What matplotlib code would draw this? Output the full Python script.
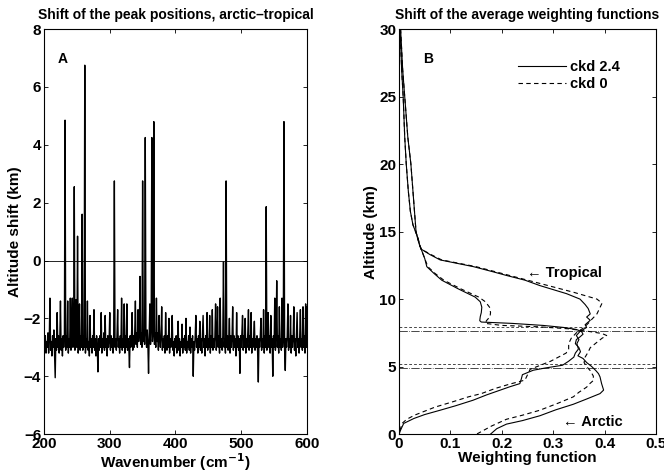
import numpy as np
import matplotlib
matplotlib.use('Agg')
import matplotlib.pyplot as plt

plt.rcParams['font.family'] = ['Liberation Sans', 'DejaVu Sans']
plt.rcParams['font.weight'] = 'bold'
plt.rcParams['axes.labelweight'] = 'bold'

# panel A: altitude shift of the peak, 1 cm-1 steps from 200 to 600
wn_start = 200
shift = [
    -2.7, -3.1, -2.6, -3.2, -2.8, -3.0, -2.5, -3.2, -2.7, -1.3, -3.1, -2.8, -3.3, -2.6, -3.0, -2.4, -3.2, -4.05, -2.7, -3.1,
    -1.8, -3.0, -2.6, -3.2, -2.8, -1.4, -3.1, -2.7, -3.3, -2.6, -3.0, -2.7, 4.85, -3.1, -2.6, -3.0, -1.4, -3.2, -2.7, -3.0,
    -1.3, -3.1, -2.6, -1.3, -3.0, -2.7, 2.55, -3.1, -2.6, -1.35, -3.0, 0.84, -3.2, -2.7, -1.5, -3.1, -2.6, -3.0, 1.6, -3.1,
    -2.6, -3.0, 6.75, -3.2, -2.7, -3.0, -1.4, -3.1, -2.8, -3.3, -1.9, -3.0, -2.7, -3.2, -2.6, -3.0, -1.7, -3.1, -2.7, -3.3,
    -2.6, -3.0, -3.85, -2.7, -3.1, -2.6, -3.0, -1.8, -3.2, -2.7, -3.0, -2.5, -3.1, -1.9, -3.0, -2.7, -3.3, -2.6, -3.0, -2.8,
    -1.8, -3.1, -2.6, -3.0, -2.7, -3.2, -2.6, 2.75, -3.0, -2.7, -3.1, -2.6, -1.7, -3.0, -2.7, -3.2, -2.6, -3.0, -1.3, -3.1,
    -2.7, -3.0, -1.5, -3.2, -2.6, -3.0, -1.5, -3.1, -2.7, -3.0, -3.7, -2.6, -3.0, -2.7, -1.8, -3.1, -2.6, -3.0, -2.5, -1.4,
    -2.9, -2.5, -3.0, -1.7, -2.8, -2.4, -0.55, -2.9, -2.5, -3.0, 2.75, -2.8, -2.4, -2.9, 4.25, -2.5, -3.0, -2.4, -2.9, -3.9,
    -2.5, -1.5, -2.9, -2.4, 4.25, -2.8, -2.5, 4.8, -2.9, -2.5, -3.0, -1.3, -2.8, -2.5, -3.1, -1.9, -2.7, -3.0, -2.6, -1.6,
    -3.1, -2.7, -3.0, -2.6, -3.2, -1.8, -2.8, -3.1, -2.6, -3.0, -2.0, -3.2, -2.7, -3.0, -2.6, -1.9, -3.1, -2.8, -3.3, -2.7,
    -3.0, -2.6, -3.2, -2.8, -2.1, -3.1, -2.7, -3.3, -2.8, -3.0, -2.2, -3.2, -2.7, -3.0, -2.6, -3.1, -2.0, -3.2, -2.8, -3.0,
    -2.6, -3.1, -2.3, -3.2, -2.7, -3.0, -2.6, -4.0, -2.8, -3.1, -2.6, -1.9, -3.0, -2.7, -3.2, -2.6, -3.0, -2.1, -3.1, -2.7,
    -3.2, -2.6, -1.9, -3.0, -2.7, -3.3, -2.6, -3.0, -1.8, -3.1, -2.7, -3.0, -1.9, -3.2, -2.6, -3.0, -1.7, -3.1, -2.7, -3.0,
    -2.6, -1.5, -3.1, -2.7, -1.6, -3.0, -2.6, -3.2, -1.3, -3.0, -2.7, -3.1, -2.6, -0.05, -3.0, -2.7, -3.2, 2.75, -3.0, -2.6,
    -3.1, -2.7, -2.0, -3.2, -2.6, -3.0, -2.7, -1.6, -3.1, -2.6, -3.0, -2.7, -3.3, -1.8, -3.0, -2.6, -3.1, -2.7, -3.9, -2.6,
    -3.0, -2.5, -1.9, -3.1, -2.6, -3.0, -2.0, -3.2, -2.7, -3.0, -2.5, -1.7, -3.1, -2.6, -3.0, -1.8, -3.2, -2.7, -3.0, -2.6,
    -2.1, -3.1, -2.7, -3.0, -2.6, -3.2, -4.2, -2.7, -3.0, -2.6, -2.0, -3.1, -2.7, -3.0, -1.7, -3.2, -2.6, -3.0, 1.86, -3.1,
    -2.7, -1.8, -3.0, -2.6, -3.2, -1.9, -3.0, -2.7, -4.0, -2.6, -3.0, -1.3, -3.1, -2.7, -0.7, -3.0, -2.6, -3.2, -1.6, -3.0,
    -2.7, -3.1, -1.3, -3.0, -2.6, 4.8, -3.1, -3.8, -2.7, -3.0, -2.6, -1.5, -3.1, -2.7, -3.0, -1.9, -3.2, -2.6, -3.0, -2.7,
    -1.6, -3.1, -2.7, -3.3, -2.6, -1.8, -3.0, -2.7, -3.2, -2.6, -1.7, -3.0, -2.7, -3.1, -1.6, -3.0, -2.6, -3.2, -1.5, -3.0,
    -1.6,
]
wn = np.arange(wn_start, wn_start + len(shift))

# panel B: average weighting functions (altitude km, weight)
trop_alt = [30, 27, 25, 22, 20, 18, 16.5, 15.5, 15, 14.5, 14, 13.7, 13.3, 12.9, 12.4, 12.0, 11.75, 11.4, 11.0, 10.4,
            10.0, 9.6, 9.3, 8.9, 8.67, 8.43, 8.1, 7.9, 7.6, 7.3, 7.0, 6.7, 6.3, 6.0, 5.7, 5.4, 5.1, 4.9, 4.73, 4.4,
            4.1, 3.74, 3.5, 3.26, 2.9, 2.51, 2.1, 1.77, 1.45, 1.16, 0.79, 0.3, 0]
trop_ckd24 = [0.002, 0.005, 0.008, 0.011, 0.014, 0.018, 0.022, 0.027, 0.032, 0.037, 0.040, 0.043, 0.060, 0.080, 0.145,
              0.185, 0.209, 0.245, 0.274, 0.326, 0.352, 0.362, 0.368, 0.372, 0.365, 0.372, 0.362, 0.365, 0.352, 0.345,
              0.350, 0.346, 0.349, 0.343, 0.340, 0.330, 0.318, 0.285, 0.261, 0.240, 0.238, 0.235, 0.215, 0.197, 0.170,
              0.144, 0.110, 0.080, 0.050, 0.029, 0.009, 0.003, 0.0]
trop0_alt = [30, 27, 25, 22, 20, 18, 16.5, 15.5, 15, 14.5, 14, 13.7, 13.3, 12.9, 12.4, 12.0, 11.5, 11.0, 10.5, 10.0,
             9.7, 9.3, 8.9, 8.5, 8.2, 7.9, 7.5, 7.1, 6.7, 6.3, 6.0, 5.7, 5.4, 5.1, 4.8, 4.4, 4.0, 3.7, 3.38, 3.0,
             2.76, 2.4, 2.0, 1.7, 1.4, 1.1, 0.8, 0.3, 0]
trop_ckd0 = [0.002, 0.005, 0.008, 0.011, 0.014, 0.018, 0.022, 0.027, 0.032, 0.037, 0.040, 0.043, 0.062, 0.083, 0.150,
             0.190, 0.240, 0.290, 0.340, 0.385, 0.395, 0.390, 0.385, 0.375, 0.368, 0.360, 0.345, 0.335, 0.330, 0.330,
             0.325, 0.310, 0.295, 0.275, 0.255, 0.250, 0.245, 0.215, 0.187, 0.160, 0.135, 0.105, 0.070, 0.050, 0.030,
             0.015, 0.006, 0.002, 0.0]

arc_alt = [30, 27, 25, 22, 20, 18, 16.5, 15.5, 15, 14.5, 14, 13.5, 13, 12.4, 11.9, 11.4, 10.76, 10.15, 9.8, 9.4,
           9.0, 8.7, 8.4, 8.3, 8.2, 8.05, 7.9, 7.75, 7.6, 7.4, 7.2, 7.0, 6.7, 6.4, 6.1, 5.8, 5.6, 5.3, 5.0, 4.7,
           4.48, 4.24, 3.75, 3.26, 3.0, 2.6, 2.21, 1.8, 1.36, 1.0, 0.74, 0.4, 0]
arc_ckd24 = [0.003, 0.007, 0.011, 0.017, 0.023, 0.027, 0.030, 0.032, 0.033, 0.036, 0.040, 0.045, 0.050, 0.054, 0.068,
             0.083, 0.115, 0.148, 0.158, 0.161, 0.160, 0.158, 0.157, 0.160, 0.220, 0.280, 0.320, 0.345, 0.355, 0.358,
             0.352, 0.345, 0.343, 0.350, 0.353, 0.348, 0.358, 0.365, 0.375, 0.383, 0.388, 0.391, 0.394, 0.398, 0.391,
             0.365, 0.339, 0.305, 0.274, 0.240, 0.209, 0.190, 0.178]
arc0_alt = [30, 27, 25, 22, 20, 18, 16.5, 15.5, 15, 14.5, 14, 13.5, 13, 12.4, 11.9, 11.4, 10.76, 10.15, 9.8, 9.4,
            9.0, 8.7, 8.4, 8.2, 8.05, 7.95, 7.8, 7.6, 7.45, 7.3, 7.1, 6.8, 6.4, 6.08, 5.7, 5.3, 5.0, 4.7, 4.3, 3.97,
            3.7, 3.48, 3.1, 2.76, 2.3, 1.77, 1.4, 1.1, 0.6, 0]
arc_ckd0 = [0.003, 0.007, 0.011, 0.017, 0.023, 0.027, 0.030, 0.032, 0.033, 0.036, 0.040, 0.045, 0.050, 0.056, 0.070,
            0.087, 0.120, 0.155, 0.168, 0.176, 0.178, 0.177, 0.170, 0.168, 0.200, 0.270, 0.330, 0.370, 0.395, 0.404,
            0.395, 0.385, 0.372, 0.368, 0.362, 0.360, 0.365, 0.372, 0.378, 0.378, 0.370, 0.365, 0.350, 0.339, 0.310,
            0.274, 0.240, 0.209, 0.180, 0.151]

# peak altitudes marked by horizontal lines
peaks_ckd24 = [7.64, 4.93]
peaks_ckd0 = [7.93, 5.22]

fig = plt.figure(figsize=(6.64, 4.76), dpi=100)
axA = fig.add_axes([0.0663, 0.088, 0.396, 0.851])
axB = fig.add_axes([0.601, 0.088, 0.387, 0.851])

for ax in (axA, axB):
    ax.tick_params(direction='in', top=True, right=True, length=3, width=0.6, labelsize=11, pad=2)
    for s in ax.spines.values():
        s.set_linewidth(0.8)

# --- A ---
axA.plot(wn, shift, color='black', lw=1.0)
axA.axhline(0, color='black', lw=0.6)
axA.set_xlim(200, 600)
axA.set_ylim(-6, 8)
axA.set_xticks([200, 300, 400, 500, 600])
axA.set_yticks([-6, -4, -2, 0, 2, 4, 6, 8])
axA.set_xlabel('Wavenumber (cm$^{\\mathbf{-1}}$)', fontsize=11, labelpad=0)
axA.set_ylabel('Altitude shift (km)', fontsize=11, labelpad=1)
axA.set_title('Shift of the peak positions, arctic\u2013tropical', fontsize=10, fontweight='bold', pad=7)
axA.text(228, 6.95, 'A', fontsize=10, fontweight='bold', va='center', ha='center')

# --- B ---
axB.plot(trop_ckd24, trop_alt, color='black', lw=0.8, label='ckd 2.4')
axB.plot(trop_ckd0, trop0_alt, color='black', lw=0.8, ls=(0, (4, 3)), label='ckd 0')
axB.plot(arc_ckd24, arc_alt, color='black', lw=0.8)
axB.plot(arc_ckd0, arc0_alt, color='black', lw=0.8, ls=(0, (4, 3)))
for p in peaks_ckd24:
    axB.axhline(p, color='black', lw=0.5, ls=(0, (12, 2, 1, 2)))
for p in peaks_ckd0:
    axB.axhline(p, color='black', lw=0.5, ls=(0, (4, 3)))
axB.set_xlim(0, 0.5)
axB.set_ylim(0, 30)
axB.set_xticks([0, 0.1, 0.2, 0.3, 0.4, 0.5])
axB.set_xticklabels(['0', '0.1', '0.2', '0.3', '0.4', '0.5'])
axB.set_yticks([0, 5, 10, 15, 20, 25, 30])
axB.set_xlabel('Weighting function', fontsize=11, labelpad=0)
axB.set_ylabel('Altitude (km)', fontsize=11, labelpad=1)
axB.set_title('Shift of the average weighting functions', fontsize=10, fontweight='bold', pad=7)
axB.text(0.057, 27.8, 'B', fontsize=10, fontweight='bold', va='center', ha='center')
axB.text(0.249, 11.92, '\u2190 Tropical', fontsize=10.5, fontweight='bold', va='center')
axB.text(0.319, 0.91, '\u2190 Arctic', fontsize=10.5, fontweight='bold', va='center')
axB.legend(loc='upper left', bbox_to_anchor=(0.41, 0.955), frameon=False, handlelength=3.3,
           handletextpad=0.3, labelspacing=0.2, prop={'weight': 'bold', 'size': 10.5})

for ax in (axA, axB):
    for lab in ax.get_xticklabels() + ax.get_yticklabels():
        lab.set_fontweight('bold')

fig.savefig('out.png', dpi=100)
